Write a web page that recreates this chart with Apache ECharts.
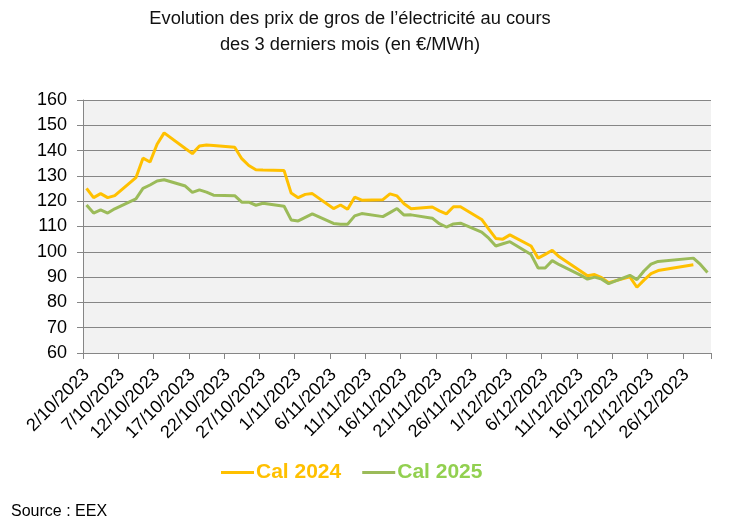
<!DOCTYPE html>
<html>
<head>
<meta charset="utf-8">
<script src="https://cdn.jsdelivr.net/npm/echarts@6/dist/echarts.min.js"></script>
<style>
html,body{margin:0;padding:0;background:#fff;}
#chart{width:737px;height:529px;}
</style>
</head>
<body>
<div id="chart"></div>
<script>
// Calendar days on the x axis (2/10/2023 .. 29/12/2023)
var days = [
"2/10/2023","3/10/2023","4/10/2023","5/10/2023","6/10/2023","7/10/2023","8/10/2023","9/10/2023","10/10/2023","11/10/2023",
"12/10/2023","13/10/2023","14/10/2023","15/10/2023","16/10/2023","17/10/2023","18/10/2023","19/10/2023","20/10/2023","21/10/2023",
"22/10/2023","23/10/2023","24/10/2023","25/10/2023","26/10/2023","27/10/2023","28/10/2023","29/10/2023","30/10/2023","31/10/2023",
"1/11/2023","2/11/2023","3/11/2023","4/11/2023","5/11/2023","6/11/2023","7/11/2023","8/11/2023","9/11/2023","10/11/2023",
"11/11/2023","12/11/2023","13/11/2023","14/11/2023","15/11/2023","16/11/2023","17/11/2023","18/11/2023","19/11/2023","20/11/2023",
"21/11/2023","22/11/2023","23/11/2023","24/11/2023","25/11/2023","26/11/2023","27/11/2023","28/11/2023","29/11/2023","30/11/2023",
"1/12/2023","2/12/2023","3/12/2023","4/12/2023","5/12/2023","6/12/2023","7/12/2023","8/12/2023","9/12/2023","10/12/2023",
"11/12/2023","12/12/2023","13/12/2023","14/12/2023","15/12/2023","16/12/2023","17/12/2023","18/12/2023","19/12/2023","20/12/2023",
"21/12/2023","22/12/2023","23/12/2023","24/12/2023","25/12/2023","26/12/2023","27/12/2023","28/12/2023","29/12/2023"
];

// Trading days with quotes
var tradeDates = [
"2/10/2023","3/10/2023","4/10/2023","5/10/2023","6/10/2023",
"9/10/2023","10/10/2023","11/10/2023","12/10/2023","13/10/2023",
"16/10/2023","17/10/2023","18/10/2023","19/10/2023","20/10/2023",
"23/10/2023","24/10/2023","25/10/2023","26/10/2023","27/10/2023",
"30/10/2023","31/10/2023","1/11/2023","2/11/2023","3/11/2023",
"6/11/2023","7/11/2023","8/11/2023","9/11/2023","10/11/2023",
"13/11/2023","14/11/2023","15/11/2023","16/11/2023","17/11/2023",
"20/11/2023","21/11/2023","22/11/2023","23/11/2023","24/11/2023",
"27/11/2023","28/11/2023","29/11/2023","30/11/2023","1/12/2023",
"4/12/2023","5/12/2023","6/12/2023","7/12/2023","8/12/2023",
"11/12/2023","12/12/2023","13/12/2023","14/12/2023","15/12/2023",
"18/12/2023","19/12/2023","20/12/2023","21/12/2023","22/12/2023",
"27/12/2023","28/12/2023","29/12/2023"
];

var cal2024 = [
125.1,121.4,123.0,121.4,122.2,
129.3,137.0,135.5,142.5,147.0,
140.8,138.8,141.8,142.2,142.0,
141.3,136.8,134.1,132.4,132.3,
132.1,123.2,121.4,122.7,123.0,
117.1,118.5,116.8,121.6,120.4,
120.6,122.9,122.1,119.0,117.0,
117.7,116.2,115.0,117.8,117.8,
112.8,109.0,105.3,105.0,106.7,
102.3,97.5,99.0,100.6,98.0,
92.4,90.5,91.0,89.8,87.8,
90.1,86.0,88.8,91.4,92.6,
94.9,null,null
];

var cal2025 = [
118.5,115.3,116.6,115.3,117.0,
120.9,125.1,126.4,128.0,128.5,
126.0,123.5,124.5,123.6,122.4,
122.2,119.6,119.6,118.4,119.2,
118.0,112.6,112.2,113.6,115.0,
111.2,110.9,110.9,114.2,115.1,
113.9,115.5,117.1,114.5,114.6,
113.3,111.1,109.8,111.0,111.3,
107.8,105.4,102.3,103.2,104.0,
98.9,93.6,93.6,96.5,94.9,
90.8,89.2,90.0,89.2,87.4,
90.7,89.0,92.4,95.1,96.2,
97.5,95.0,91.8
];

var seriesNames = ["Cal 2024","Cal 2025"];
var lineColors = ["#FFC000","#9BBB59"];
var legendColors = ["#FFC000","#92D050"];

function pairs(vals){
  var out = [];
  for (var i = 0; i < tradeDates.length; i++) {
    if (vals[i] !== null && vals[i] !== undefined) out.push([tradeDates[i], vals[i]]);
  }
  return out;
}

var chart = echarts.init(document.getElementById('chart'), null, {renderer:'canvas'});
var FONT = 'Liberation Sans, Arial, sans-serif';

chart.setOption({
  animation: false,
  backgroundColor: '#ffffff',
  grid: {
    left: 83, right: 26, top: 100, bottom: 176,
    show: true, backgroundColor: '#F2F2F2', borderWidth: 0
  },
  legend: {
    bottom: 41, left: 216,
    icon: 'rect', itemWidth: 33, itemHeight: 3, itemGap: 21,
    data: [
      {name: seriesNames[0], textStyle: {color: legendColors[0]}},
      {name: seriesNames[1], textStyle: {color: legendColors[1]}}
    ],
    textStyle: {fontFamily: FONT, fontSize: 21, fontWeight: 'bold', padding: [0, 0, 0, -3]}
  },
  xAxis: {
    type: 'category',
    data: days,
    boundaryGap: true,
    axisLine: {lineStyle: {color: '#868686', width: 1}},
    axisTick: {show: true, interval: 4, length: 6, lineStyle: {color: '#868686'}},
    axisLabel: {interval: 4, rotate: 45, fontFamily: FONT, fontSize: 18, color: '#000', margin: 19},
    splitLine: {show: false}
  },
  yAxis: {
    type: 'value',
    min: 60, max: 160, interval: 10,
    axisLine: {show: true, lineStyle: {color: '#868686', width: 1}},
    axisTick: {show: true, length: 6, lineStyle: {color: '#868686'}},
    axisLabel: {fontFamily: FONT, fontSize: 18, color: '#000', margin: 16},
    splitLine: {show: true, lineStyle: {color: '#868686', width: 1}}
  },
  series: [
    {
      name: seriesNames[0], type: 'line', data: pairs(cal2024),
      symbol: 'none', lineStyle: {color: lineColors[0], width: 3}, itemStyle: {color: lineColors[0]}
    },
    {
      name: seriesNames[1], type: 'line', data: pairs(cal2025),
      symbol: 'none', lineStyle: {color: lineColors[1], width: 3}, itemStyle: {color: lineColors[1]}
    }
  ],
  graphic: [
    {
      type: 'text', x: 350, y: 6,
      style: {
        text: "Evolution des prix de gros de l\u2019électricité au cours\ndes 3 derniers mois (en €/MWh)",
        font: '18.3px ' + FONT, fill: '#111', textAlign: 'center', textVerticalAlign: 'top', lineHeight: 26
      }
    },
    {
      type: 'text', left: 11, top: 504,
      style: {text: 'Source : EEX', font: '16px ' + FONT, fill: '#000'}
    }
  ]
});
</script>
</body>
</html>
